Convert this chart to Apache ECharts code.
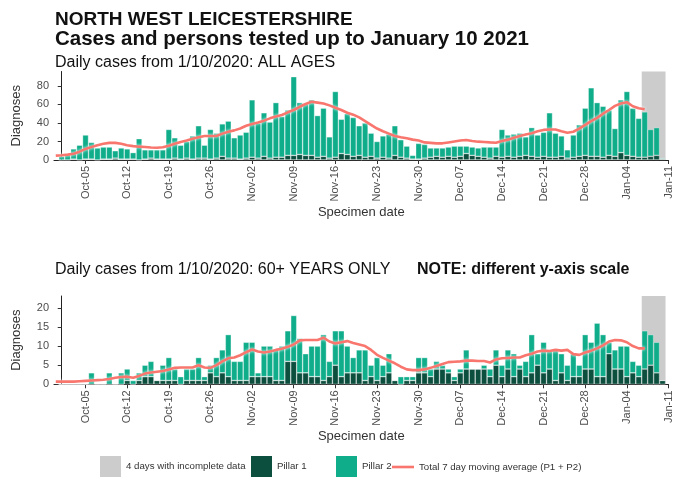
<!DOCTYPE html>
<html>
<head>
<meta charset="utf-8">
<style>
  html, body { margin: 0; padding: 0; background: #ffffff; }
  #chart { width: 674px; height: 482px; }
</style>
<script src="https://cdn.jsdelivr.net/npm/echarts@6/dist/echarts.min.js"></script>
</head>
<body>
<div id="chart"></div>
<script>
// Daily COVID-19 cases, North West Leicestershire, 1 Oct 2020 - 10 Jan 2021
const firstBarDate = '2020-10-01';
const firstAvgDate = '2020-09-30';
const incompleteRange = ['2021-01-07', '2021-01-10'];

const tickLabels = ['Oct-05', 'Oct-12', 'Oct-19', 'Oct-26', 'Nov-02', 'Nov-09', 'Nov-16',
  'Nov-23', 'Nov-30', 'Dec-07', 'Dec-14', 'Dec-21', 'Dec-28', 'Jan-04', 'Jan-11'];
const firstTickDate = '2020-10-05';

const allTicksY = [0, 20, 40, 60, 80];
const oldTicksY = [0, 5, 10, 15, 20];

// All ages
const allPillar1 = [
  0, 0, 1, 0, 1, 1, 0, 1, 1, 2, 1, 1, 1, 0, 1, 2, 1, 1, 1, 2, 1, 2, 1, 2, 2, 1, 2, 4, 2, 2, 1,
  2, 3, 2, 4, 2, 3, 3, 5, 5, 6, 5, 5, 3, 4, 2, 3, 7, 6, 4, 5, 3, 4, 2, 3, 2, 5, 3, 2, 1, 1,
  2, 3, 4, 3, 4, 3, 4, 7, 5, 4, 3, 2, 4, 3, 4, 3, 4, 5, 4, 3, 4, 3, 3, 4, 2, 3, 4, 5, 4, 4, 3,
  5, 4, 8, 5, 4, 3, 3, 4, 5, 1
];
const allPillar2 = [
  4, 6, 11, 16, 26, 18, 13, 13, 13, 8, 12, 11, 7, 23, 10, 9, 10, 10, 32, 22, 15, 18, 25, 35, 14, 32, 27, 35, 40, 22, 26,
  28, 62, 38, 47, 39, 59, 44, 49, 85, 56, 56, 60, 45, 52, 23, 71, 37, 44, 42, 32, 37, 25, 18, 23, 26, 32, 19, 13, 4, 17,
  15, 10, 9, 10, 10, 12, 11, 8, 9, 9, 11, 12, 10, 30, 23, 25, 25, 20, 31, 24, 26, 48, 26, 22, 9, 24, 34, 51, 74, 58, 55,
  49, 30, 57, 69, 52, 42, 49, 29, 30, 1
];
const allAverage = [
  4.7, 5.2, 5.8, 6.8, 9, 12, 14, 16, 17.5, 18.5,
  18.5, 17.5, 16, 15, 14.4, 14, 13.5, 13.3, 13.8, 15.5,
  17.5, 19.5, 21, 23, 24.5, 26, 26, 26, 28.5, 30.6,
  32, 34, 37, 39, 40.5, 42.5, 45, 47, 48.6, 51.5,
  54, 57.5, 60.5, 63, 62, 61, 59, 56.5, 54, 51,
  49, 46, 42, 38, 34, 31, 28.5, 26, 24.5, 23.4,
  22, 21, 19, 18.5, 18, 18, 19, 20, 21, 21.6,
  20.5, 19.8, 19.5, 19, 18.7, 20.5, 22, 24, 26, 27.5,
  29, 31, 32.5, 33, 33, 31, 29.5, 30.5, 34, 38,
  42, 45.5, 50, 54, 58.5, 61, 62.5, 58, 56, 54.8
];

// 60+ years only
const oldPillar1 = [
  0, 0, 0, 0, 0, 0, 0, 0, 0, 0,
  0, 1, 0, 1, 2, 2, 1, 1, 1, 1,
  0, 1, 1, 1, 1, 3, 2, 3, 2, 1,
  1, 1, 2, 2, 2, 2, 1, 1, 6, 6,
  3, 3, 2, 2, 1, 2, 5, 2, 3, 3,
  3, 1, 2, 1, 2, 3, 1, 0, 1, 1,
  3, 3, 2, 4, 4, 3, 1, 3, 4, 4,
  4, 4, 2, 5, 2, 4, 2, 4, 2, 3,
  5, 3, 4, 1, 3, 1, 2, 2, 4, 4,
  2, 2, 8, 4, 4, 2, 3, 2, 4, 5,
  3, 1
];
const oldPillar2 = [
  0, 0, 0, 0, 0, 3, 0, 0, 3, 0,
  3, 3, 1, 2, 3, 4, 0, 4, 6, 3,
  2, 3, 3, 6, 1, 2, 5, 6, 11, 5,
  5, 10, 9, 1, 8, 8, 8, 9, 8, 12,
  9, 5, 8, 8, 12, 4, 9, 12, 7, 4,
  6, 8, 3, 6, 3, 5, 0, 2, 1, 1,
  4, 4, 2, 2, 1, 1, 1, 1, 5, 0,
  0, 1, 2, 4, 3, 5, 6, 1, 4, 10,
  3, 8, 5, 8, 5, 4, 6, 3, 9, 7,
  14, 11, 3, 5, 6, 8, 3, 3, 10, 8,
  8, 0
];
const oldAverage = [
  0.7, 0.7, 0.7, 0.7, 0.8, 0.9, 1.0, 1.1, 1.2, 1.4,
  1.7, 1.9, 2.0, 1.7, 2.2, 2.8, 3.1, 3.3, 3.5, 3.9,
  4.3, 4.4, 4.4, 4.4, 5.0, 4.4, 4.3, 5.0, 6.0, 6.8,
  7.0, 7.6, 8.4, 9.1, 8.6, 8.3, 8.6, 9.0, 9.3, 9.8,
  10.4, 11.5, 11.6, 11.6, 11.6, 12.2, 11.2, 10.7, 11.0, 11.3,
  10.8, 10.4, 10.0, 9.0, 7.7, 6.9, 6.2, 5.5, 4.6, 3.9,
  3.7, 3.7, 3.9, 4.3, 4.8, 5.3, 5.8, 5.9, 6.0, 6.2,
  6.2, 6.1, 6.1, 5.7, 6.5, 6.8, 6.9, 7.0, 7.0, 7.6,
  8.0, 8.6, 8.8, 8.7, 9.0, 8.8, 9.0, 7.9, 7.7, 8.3,
  8.8, 9.4, 10.2, 11.2, 11.6, 11.5, 11.0, 10.0, 9.4, 9.4
];

// ---- helpers: x axis counts days since 1 Oct 2020 ----
const DAY = 86400000;
const origin = Date.parse(firstBarDate + 'T00:00:00Z');
const dayOf = (iso) => Math.round((Date.parse(iso + 'T00:00:00Z') - origin) / DAY);
// rows are [count, day] so the count is the stacked dimension
const rowsFrom = (startIso, values) => {
  const s = dayOf(startIso);
  return values.map((v, i) => [v, s + i]);
};
const tickStart = dayOf(firstTickDate);
const tickValues = tickLabels.map((_, i) => tickStart + i * 7);

const FONT = 'Liberation Sans, Arial, Helvetica, sans-serif';
const C_P1 = '#0c4f3e';
const C_P2 = '#10ad8b';
const C_AVG = '#f8766d';
const C_GREY = '#cccccc';

const NAMES = {
  grey: '4 days with incomplete data',
  p1: 'Pillar 1',
  p2: 'Pillar 2',
  avg: 'Total 7 day moving average (P1 + P2)'
};

const grids = [
  { left: 54, right: 3, top: 71.5, height: 88.5 },
  { left: 54, right: 3, top: 296, height: 88.3 }
];

function xAxis(gridIndex) {
  return {
    type: 'value', gridIndex,
    min: -1.3, max: tickValues[tickValues.length - 1],
    name: 'Specimen date', nameLocation: 'middle', nameGap: 46,
    nameTextStyle: { fontFamily: FONT, fontSize: 13, color: '#333' },
    axisLine: { show: true, lineStyle: { color: '#222', width: 1 } },
    axisTick: { show: true, length: 4, customValues: tickValues, lineStyle: { color: '#333' } },
    axisLabel: {
      customValues: tickValues, rotate: 90, margin: 6,
      fontFamily: FONT, fontSize: 11, color: '#4d4d4d',
      formatter: (v) => tickLabels[Math.round((v - tickStart) / 7)] || ''
    },
    splitLine: { show: false }
  };
}
function yAxis(gridIndex, max, ticks) {
  return {
    type: 'value', gridIndex, min: 0, max,
    name: 'Diagnoses', nameLocation: 'middle', nameGap: 31,
    nameTextStyle: { fontFamily: FONT, fontSize: 13, color: '#333' },
    axisLine: { show: true, lineStyle: { color: '#222', width: 1 } },
    axisTick: { show: true, length: 4, customValues: ticks, lineStyle: { color: '#333' } },
    axisLabel: { customValues: ticks, margin: 5, fontFamily: FONT, fontSize: 11, color: '#4d4d4d' },
    splitLine: { show: false }
  };
}

const greyArea = [[
  { xAxis: dayOf(incompleteRange[0]) - 0.5 },
  { xAxis: dayOf(incompleteRange[1]) + 0.5 }
]];

function panelSeries(idx, p1, p2, avg) {
  const stack = 'panel' + idx;
  const barStyle = (color) => ({ color, borderColor: 'rgba(255,255,255,0.55)', borderWidth: 0.6 });
  const encode = { x: 1, y: 0 };
  return [
    {
      // carries the shaded window of incomplete days
      name: NAMES.grey, type: 'line', xAxisIndex: idx, yAxisIndex: idx,
      data: [], symbol: 'none', itemStyle: { color: C_GREY }, lineStyle: { width: 0 },
      markArea: { silent: true, itemStyle: { color: C_GREY }, data: greyArea }
    },
    {
      name: NAMES.p1, type: 'bar', xAxisIndex: idx, yAxisIndex: idx, stack, encode,
      barWidth: '100%', data: rowsFrom(firstBarDate, p1), itemStyle: barStyle(C_P1)
    },
    {
      name: NAMES.p2, type: 'bar', xAxisIndex: idx, yAxisIndex: idx, stack, encode,
      barWidth: '100%', data: rowsFrom(firstBarDate, p2), itemStyle: barStyle(C_P2)
    },
    {
      name: NAMES.avg, type: 'line', xAxisIndex: idx, yAxisIndex: idx, encode,
      data: rowsFrom(firstAvgDate, avg), symbol: 'none', z: 5,
      lineStyle: { color: C_AVG, width: 2.6, shadowColor: 'rgba(255,255,255,0.95)', shadowBlur: 3 },
      itemStyle: { color: C_AVG }
    }
  ];
}

const lineIcon = 'path://M0,0 L22,0 L22,2.6 L0,2.6 Z';
const legendItem = (name, left, icon, color, top) => ({
  data: [{ name, icon, itemStyle: { color, borderWidth: 0 } }],
  left, top, padding: 0,
  itemWidth: icon === 'rect' ? 21 : 22, itemHeight: 21,
  symbolKeepAspect: true,
  selectedMode: false,
  textStyle: { fontFamily: FONT, fontSize: 9.7, color: '#333' }
});

const titleStyle = (size, weight) => ({ fontFamily: FONT, fontSize: size, fontWeight: weight, color: '#111' });
const titleAt = (text, left, top, size, weight) => ({ text, left, top, padding: 0, textStyle: titleStyle(size, weight) });

const option = {
  animation: false,
  backgroundColor: '#ffffff',
  title: [
    titleAt('NORTH WEST LEICESTERSHIRE', 55, 10, 19, 'bold'),
    titleAt('Cases and persons tested up to January 10 2021', 55, 29, 20.5, 'bold'),
    titleAt('Daily cases from 1/10/2020: ALL AGES', 55, 55, 16, 'normal'),
    titleAt('Daily cases from 1/10/2020: 60+ YEARS ONLY', 55, 262, 16, 'normal'),
    titleAt('NOTE: different y-axis scale', 417, 262, 16, 'bold')
  ],
  legend: [
    legendItem(NAMES.grey, 100, 'rect', C_GREY, 456),
    legendItem(NAMES.p1, 251, 'rect', C_P1, 456),
    legendItem(NAMES.p2, 336, 'rect', C_P2, 456),
    legendItem(NAMES.avg, 392, lineIcon, C_AVG, 462)
  ],
  grid: grids,
  xAxis: [xAxis(0), xAxis(1)],
  yAxis: [yAxis(0, 95.6, allTicksY), yAxis(1, 23.1, oldTicksY)],
  series: [
    ...panelSeries(0, allPillar1, allPillar2, allAverage),
    ...panelSeries(1, oldPillar1, oldPillar2, oldAverage)
  ]
};

const chart = echarts.init(document.getElementById('chart'), null, { renderer: 'canvas' });
chart.setOption(option);
</script>
</body>
</html>
